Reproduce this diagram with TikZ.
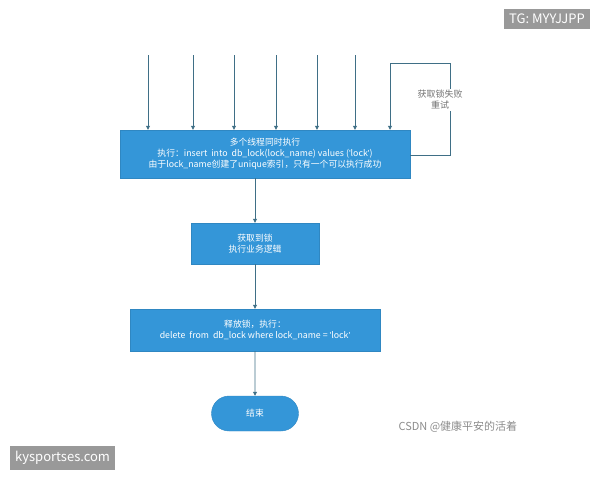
\documentclass[tikz,border=0pt]{standalone}
\usepackage{fontspec}
\setmainfont{Noto Sans CJK SC}
\newfontfamily\latf{Liberation Sans}
\newcommand{\sq}{{\latf'}}
\usetikzlibrary{arrows.meta,shapes.misc}
\definecolor{boxblue}{HTML}{3496D8}
\definecolor{linec}{HTML}{3F6F86}
\begin{document}
\begin{tikzpicture}[x=1pt,y=-1pt,
 box/.style={draw=boxblue!90!black,fill=boxblue,text=white,font=\fontsize{8.8}{11}\selectfont,align=center,inner sep=0pt},
 arr/.style={draw=linec,line width=0.8pt,-{Triangle[length=4pt,width=4pt]}},
 wm/.style={fill=black!40,text=white,font=\fontsize{13}{15}\selectfont,inner sep=5pt}]
\useasboundingbox (0,0) rectangle (600,480);
\node[box,minimum width=290,minimum height=48] (b1) at (265,154) {多个线程同时执行\\执行：insert\ \ into\ \ db\_lock(lock\_name) values (\sq lock\sq)\\由于lock\_name创建了unique索引，只有一个可以执行成功};
\node[box,minimum width=128,minimum height=41] (b2) at (255,243.5) {获取到锁\\执行业务逻辑};
\node[box,minimum width=250,minimum height=42] (b3) at (255,330) {释放锁，执行：\\delete\ \ from\ \ db\_lock where lock\_name = \sq lock\sq};
\node[box,rounded rectangle,minimum width=87,minimum height=35] (b4) at (255,413.5) {结束};
\foreach \x [count=\i] in {148,193,234,276,317,355}{
 \coordinate (s\i) at (\x,55);
 \draw[arr] (s\i) -- (s\i |- b1.north);}
\coordinate (lp) at (450,63);
\coordinate (la) at (390,63);
\draw[arr] (b1.east |- 0,155) -| (lp) -- (la) -- (la |- b1.north);
\node[fill=white,text=black!55,font=\fontsize{9}{11}\selectfont,align=center,inner sep=1pt] (lbl) at (440,100) {获取锁失败\\重试};
\draw[arr] (b1.south -| b2) -- (b2);
\draw[arr] (b2) -- (b3);
\draw[arr] (b3) -- (b4);
\node[text=black!45,font=\fontsize{11}{13}\selectfont,anchor=west] (csdn) at (395,427) {CSDN @健康平安的活着};
\node[wm,anchor=north east] (tg) at (590,9) {TG: MYYJJPP};
\node[wm,anchor=south west] (ky) at (10,470) {kysportses.com};
\end{tikzpicture}
\end{document}
